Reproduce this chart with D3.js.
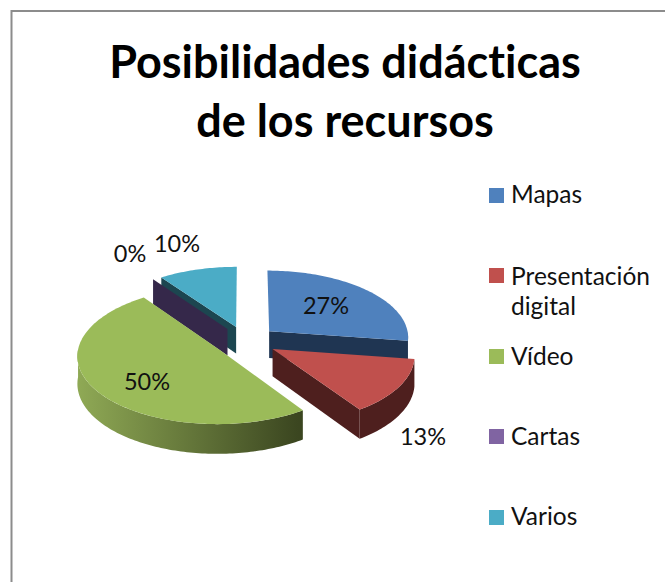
<!DOCTYPE html>
<html><head><meta charset="utf-8">
<script src="https://cdn.jsdelivr.net/npm/d3@7"></script>
<style>html,body{margin:0;padding:0;background:#fff}svg{display:block}text{font-variant-ligatures:none;font-feature-settings:"liga" 0}</style>
</head><body><div id="c"></div>
<script>
const categories = ["Mapas", "Presentación digital", "Vídeo", "Cartas", "Varios"];
const values = [27.3, 13.2, 49.6, 0, 9.9];
const topColors = ["#4f81bd", "#c0504d", "#9bbb59", "#35284a", "#4bacc6"];
const legendColors = ["#4f81bd", "#c0504d", "#9bbb59", "#8064a2", "#4bacc6"];
const wallColors = ["#1f3552", "#4e1f1e", "url(#greenWall)", "#35284a", "#1c4650"];
const titleLines = ["Posibilidades didácticas", "de los recursos"];
const drawOrder = [4, 3, 0, 2, 1];
const labelPos = [[326,305],[423,436],[147,381],[130,253],[177,243]];
const legendRows = [[188,[203]],[268,[285,315]],[349,[365]],[429,[445]],[510,[525]]];

const W = 665, H = 582;
const svg = d3.select("#c").append("svg").attr("width", W).attr("height", H);
const FONT = "Lato, 'Open Sans', sans-serif";

const grad = svg.append("defs").append("linearGradient").attr("id","greenWall")
  .attr("gradientUnits","userSpaceOnUse").attr("x1",78).attr("x2",298).attr("y1",0).attr("y2",0);
grad.append("stop").attr("offset",0).attr("stop-color","#8fa955");
grad.append("stop").attr("offset",1).attr("stop-color","#3b4620");

svg.append("path").attr("d",`M11.5,${H}V11H${W}`).attr("fill","none").attr("stroke","#8c8c8c").attr("stroke-width",2);

const cx = 245.6, cy = 341, rx = 140, ry = 67, depth = 27, persp = 0.08, explode = 0.225;
const arcs = d3.pie().sort(null).value(d => d)(values);
const pct = d3.format(".0f");

function project(u, v, down) {
  const s = 1 / (1 - persp * v);
  return [cx + rx * u * s, cy + ry * v * s + down * s];
}
const line = d3.line();
function sliceGeom(a) {
  const mid = (a.startAngle + a.endAngle) / 2;
  const ox = explode * Math.sin(mid), oy = -explode * Math.cos(mid);
  const rim = (t, down) => project(ox + Math.sin(t), oy - Math.cos(t), down);
  const apex = down => project(ox, oy, down);
  return {rim, apex};
}
function sampleAngles(a0, a1) {
  const n = Math.max(2, Math.ceil(Math.abs(a1 - a0) / 0.02));
  return d3.range(n + 1).map(i => a0 + (a1 - a0) * i / n);
}
const g = svg.append("g");
drawOrder.forEach(i => {
  const a = arcs[i], geo = sliceGeom(a), wall = wallColors[i];
  const cut = t => [geo.apex(0), geo.rim(t,0), geo.rim(t,depth), geo.apex(depth)];
  if (Math.sin(a.startAngle) < -1e-6) g.append("path").attr("d", line(cut(a.startAngle))+"Z").attr("fill", wall);
  if (Math.sin(a.endAngle) > 1e-6) g.append("path").attr("d", line(cut(a.endAngle))+"Z").attr("fill", wall);
  const lo = Math.max(a.startAngle, Math.PI/2), hi = Math.min(a.endAngle, 3*Math.PI/2);
  if (hi > lo) {
    const ts = sampleAngles(lo, hi);
    const pts = ts.map(t => geo.rim(t,0)).concat(ts.slice().reverse().map(t => geo.rim(t,depth)));
    g.append("path").attr("d", line(pts)+"Z").attr("fill", wall);
  }
  if (a.endAngle > a.startAngle) {
    const pts = [geo.apex(0)].concat(sampleAngles(a.startAngle, a.endAngle).map(t => geo.rim(t,0)));
    g.append("path").attr("d", line(pts)+"Z").attr("fill", topColors[i]);
  }
});

svg.selectAll("text.lab").data(values).join("text").attr("class","lab")
  .attr("x",(d,i)=>labelPos[i][0]).attr("y",(d,i)=>labelPos[i][1]+8.5)
  .attr("text-anchor","middle").attr("font-family",FONT).attr("font-size",23.5).attr("fill","#111")
  .text(d=>pct(d)+"%");

svg.selectAll("text.title").data(titleLines).join("text").attr("class","title")
  .attr("x",345).attr("y",(d,i)=>78+i*59).attr("text-anchor","middle")
  .attr("font-family",FONT).attr("font-weight",700).attr("font-size",45).attr("fill","#000")
  .text(d=>d);

const leg = svg.append("g");
categories.forEach((c,i)=>{
  leg.append("rect").attr("x",489).attr("y",legendRows[i][0]).attr("width",15).attr("height",15).attr("fill",legendColors[i]);
  const words = i===1 ? c.split(" ") : [c];
  words.forEach((w,j)=>leg.append("text").attr("x",511).attr("y",legendRows[i][1][j])
    .attr("font-family",FONT).attr("font-size",24.5).attr("fill","#111").text(w));
});
</script></body></html>
